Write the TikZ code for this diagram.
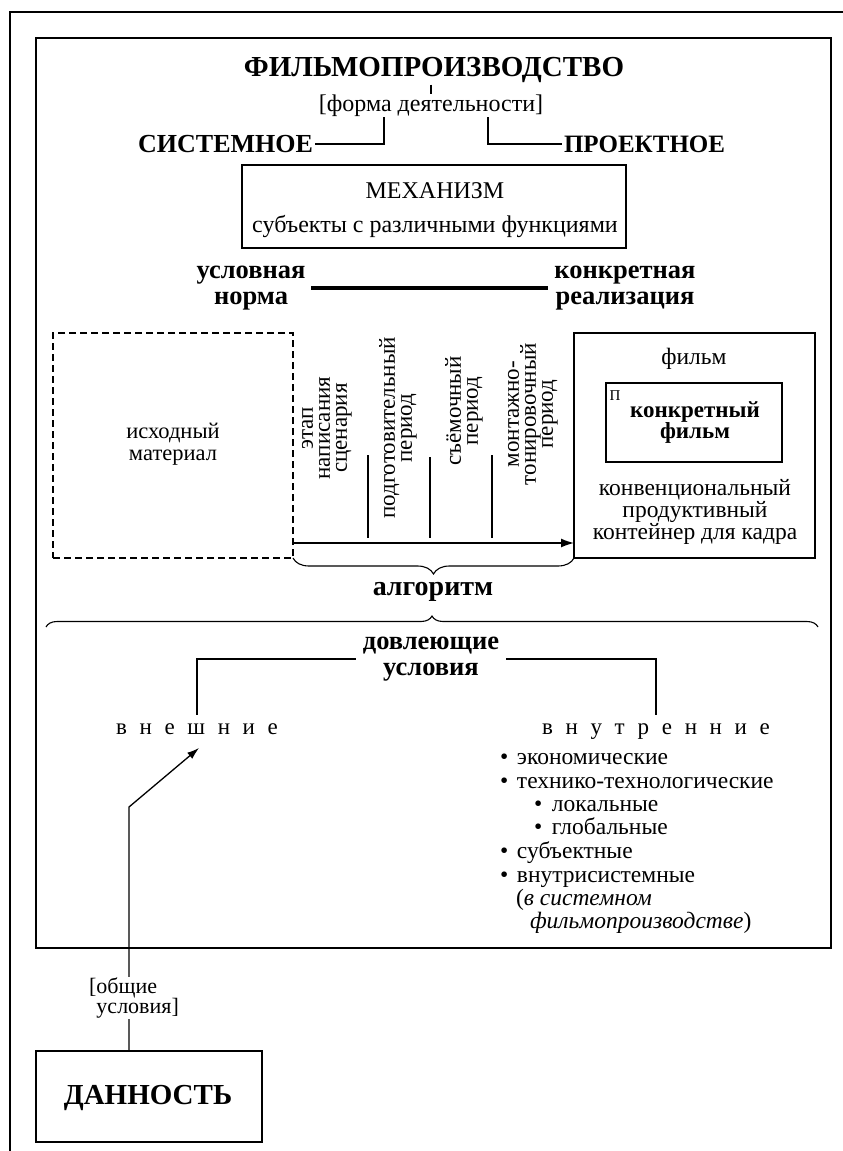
\documentclass[tikz,border=0pt]{standalone}
\usepackage{fontspec}
\setmainfont{Liberation Serif}
\usetikzlibrary{arrows.meta,decorations.pathreplacing,calc}
\newcommand\fsz[2]{\fontsize{#1}{#2}\selectfont}
\newcommand\blt{\makebox[17pt][l]{•}}
\newcommand\subblt{\makebox[18pt][l]{•}}
\begin{document}
\begin{tikzpicture}[x=1pt,y=-1pt,
  every node/.style={inner sep=0pt,outer sep=0pt},
  boxline/.style={draw,line width=1.3pt},
  thin/.style={line width=1.1pt},
  arrowline/.style={line width=1.4pt,-{Latex[length=13pt,width=9pt]}},
  vtext/.style={rotate=90,align=center,font=\fsz{23}{17}},
  body/.style={font=\fsz{23.5}{20}},
  heavy/.style={font=\bfseries\fsz{26.5}{26},align=center},
  spaced/.style={font=\fsz{23}{26}\addfontfeature{LetterSpace=55},text height=11pt,text depth=2pt},
]
\useasboundingbox (0,0) rectangle (843,1151);

% page frame (top and left rules)
\draw[line width=2.2pt] (10,1151) -- (10,12) -- (843,12);

% main frame
\node[boxline,line width=1.5pt,minimum width=795,minimum height=910] (main) at (433.5,493) {};

% title block
\node[font=\bfseries\fsz{29}{32},inner sep=2pt] (title) at (434,70) {ФИЛЬМОПРОИЗВОДСТВО};
\node[font=\fsz{24}{26},inner sep=1pt] (forma) at (431,106) {[форма деятельности]};
\draw[thin] (title.south -| forma.north) -- (forma.north);
\node[font=\bfseries\fsz{26}{28},anchor=east,outer sep=2pt] (sys) at (315,144) {СИСТЕМНОЕ};
\node[font=\bfseries\fsz{25}{28},anchor=west,outer sep=2pt] (proj) at (562,144) {ПРОЕКТНОЕ};
\coordinate (fl) at (384,117);
\coordinate (fr) at (488,117);
\draw[thin] (fl) |- (sys.east);
\draw[thin] (fr) |- (proj.west);

% mechanism box
\node[boxline,minimum width=384,minimum height=83] (mech) at (434,206.5) {};
\node[font=\fsz{24}{26}] (mechT) at (435,191) {МЕХАНИЗМ};
\node[font=\fsz{24}{26}] (mechS) at (435,226) {субъекты с различными функциями};

% norm -- realisation
\node[heavy,outer sep=6pt] (usl) at (251,288) {условная\\норма};
\node[heavy,outer sep=6pt] (konk) at (625,288) {конкретная\\реализация};
\draw[line width=4pt] (usl.east) -- (konk.west);

% source material and film
\node[draw,line width=1.3pt,dash pattern=on 7pt off 4pt,minimum width=240,minimum height=225] (src) at (173,445.5) {};
\node[align=center,font=\fsz{22.5}{22.5}] (srcT) at (173,444) {исходный\\материал};

\node[boxline,minimum width=241,minimum height=225] (film) at (694.5,445.5) {};
\node[body] (filmT) at (694,359) {фильм};
\node[boxline,minimum width=176,minimum height=79] (cf) at (694,422.5) {};
\node[font=\fsz{15}{16}] (pmark) at (615,396) {П};
\node[font=\bfseries\fsz{23}{21},align=center] (cfT) at (695,423) {конкретный\\фильм};
\node[align=center,font=\fsz{23.5}{20.5}] (filmD) at (695,512) {конвенциональный\\продуктивный\\контейнер для кадра};

% production stages
\node[vtext] (st1) at (327,428) {этап\\написания\\сценария};
\node[vtext] (st2) at (398,428) {подготовительный\\период};
\node[vtext] (st3) at (464,411) {съёмочный\\период};
\node[vtext] (st4) at (533,414) {монтажно-\\тонировочный\\период};
\draw[thin] (368,455) -- (368,538);
\draw[thin] (430,457) -- (430,538);
\draw[thin] (492,455) -- (492,538);

\coordinate (ay) at (0,543);
\draw[arrowline] (src.east |- ay) -- (film.west |- ay);

\draw[thin,decorate,decoration={brace,mirror,amplitude=16pt}] (src.south east) -- (film.south west);
\node[font=\bfseries\fsz{28}{30}] (alg) at (433,592) {алгоритм};

\coordinate (bl) at (46,627);
\coordinate (br) at (818,627);
\draw[thin,decorate,decoration={brace,amplitude=11pt}] (bl) -- (br);

% conditions
\node[heavy,outer sep=7pt] (dov) at (431,659) {довлеющие\\условия};
\node[spaced,outer sep=9pt] (vnesh) at (197,730) {внешние};
\node[spaced,outer sep=9pt] (vnutr) at (656,730) {внутренние};
\draw[thin] (dov.west) -| (vnesh.north);
\draw[thin] (dov.east) -| (vnutr.north);

\node[body,anchor=base west] (i1) at (500,764) {\blt экономические};
\node[body,anchor=base west] (i2) at (500,788) {\blt технико-технологические};
\node[body,anchor=base west] (i3) at (534,811) {\subblt локальные};
\node[body,anchor=base west] (i4) at (534,834) {\subblt глобальные};
\node[body,anchor=base west] (i5) at (500,858) {\blt субъектные};
\node[body,anchor=base west] (i6) at (500,882) {\blt внутрисистемные};
\node[body,anchor=base west] (i7) at (516,905) {(\textit{в системном}};
\node[body,anchor=base west] (i8) at (530,928) {\textit{фильмопроизводстве})};

% the given
\node[boxline,minimum width=226,minimum height=91] (dan) at (149,1096.5) {};
\node[font=\bfseries\fsz{29}{32}] (danT) at (148,1098) {ДАННОСТЬ};
\coordinate (bend) at (129,807);
\coordinate (tip) at (199,748);
\draw[line width=1.3pt,-{Latex[length=12pt,width=8pt]}] (bend |- dan.north) -- (bend) -- (tip);
\node[fill=white,align=left,font=\fsz{22}{20},inner sep=1pt] (obsh) at (134,998) {[общие\\\hphantom{[}условия]};
\end{tikzpicture}
\end{document}
